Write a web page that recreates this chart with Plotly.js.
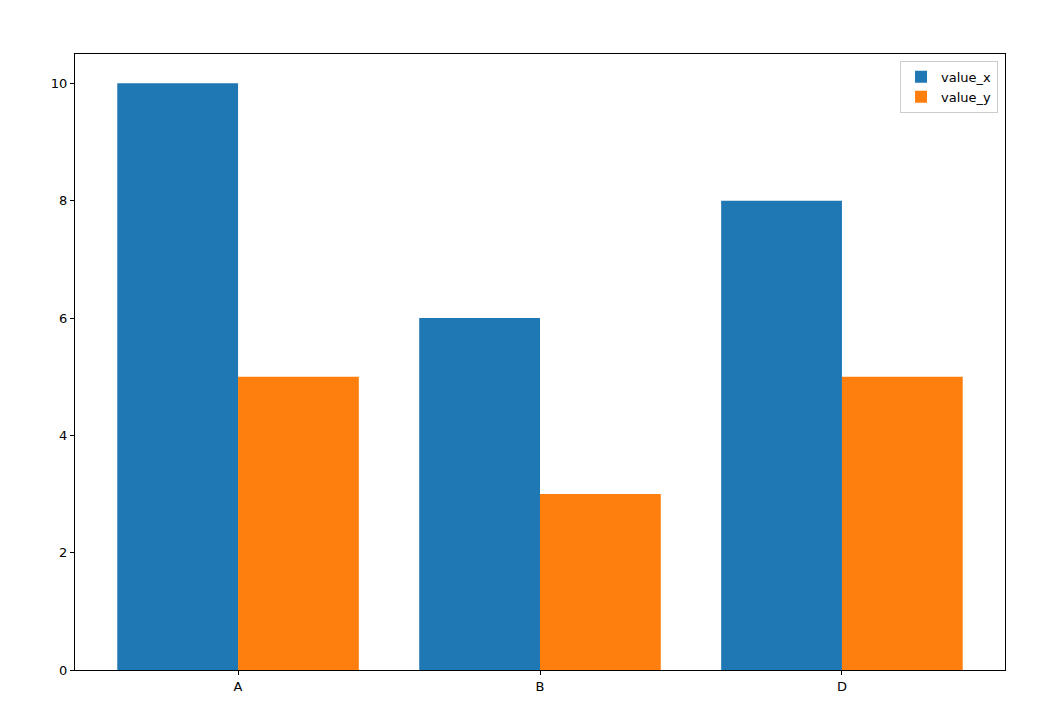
<!DOCTYPE html>
<html><head><meta charset="utf-8">
<script src="https://cdn.plot.ly/plotly-3.0.1.min.js"></script>
<style>html,body{margin:0;padding:0;background:#fff}</style>
</head><body>
<div id="chart" style="width:1045px;height:724px"></div>
<script>
const categories = ["A", "B", "D"];
const valueX = [10, 6, 8];
const valueY = [5, 3, 5];
const yTicks = [0, 2, 4, 6, 8, 10];

const font = {family: "DejaVu Sans, sans-serif", size: 13, color: "#000"};
const data = [
  {type: "bar", name: "value_x", x: categories, y: valueX, marker: {color: "#1f77b4"}},
  {type: "bar", name: "value_y", x: categories, y: valueY, marker: {color: "#ff7f0e"}}
];
const layout = {
  width: 1045, height: 724,
  margin: {l: 75, r: 40, t: 54, b: 54},
  paper_bgcolor: "#fff", plot_bgcolor: "#fff",
  font: font,
  barmode: "group", bargap: 0.2, bargroupgap: 0,
  showlegend: true,
  legend: {x: 0.9925, xanchor: "right", y: 0.989, yanchor: "top",
           bordercolor: "#cccccc", borderwidth: 1, bgcolor: "rgba(255,255,255,0.8)",
           font: font, traceorder: "normal"},
  xaxis: {type: "category", range: [-0.54, 2.54], showgrid: false, zeroline: false,
          showline: true, mirror: true, linecolor: "#000", linewidth: 1,
          ticks: "outside", ticklen: 4, tickcolor: "#000", tickfont: font},
  yaxis: {range: [0, 10.5], tickvals: yTicks, ticktext: yTicks.map(String),
          showgrid: false, zeroline: false,
          showline: true, mirror: true, linecolor: "#000", linewidth: 1,
          ticks: "outside", ticklen: 4, tickcolor: "#000", tickfont: font}
};
Plotly.newPlot("chart", data, layout, {displayModeBar: false, staticPlot: true});
</script>
</body></html>
